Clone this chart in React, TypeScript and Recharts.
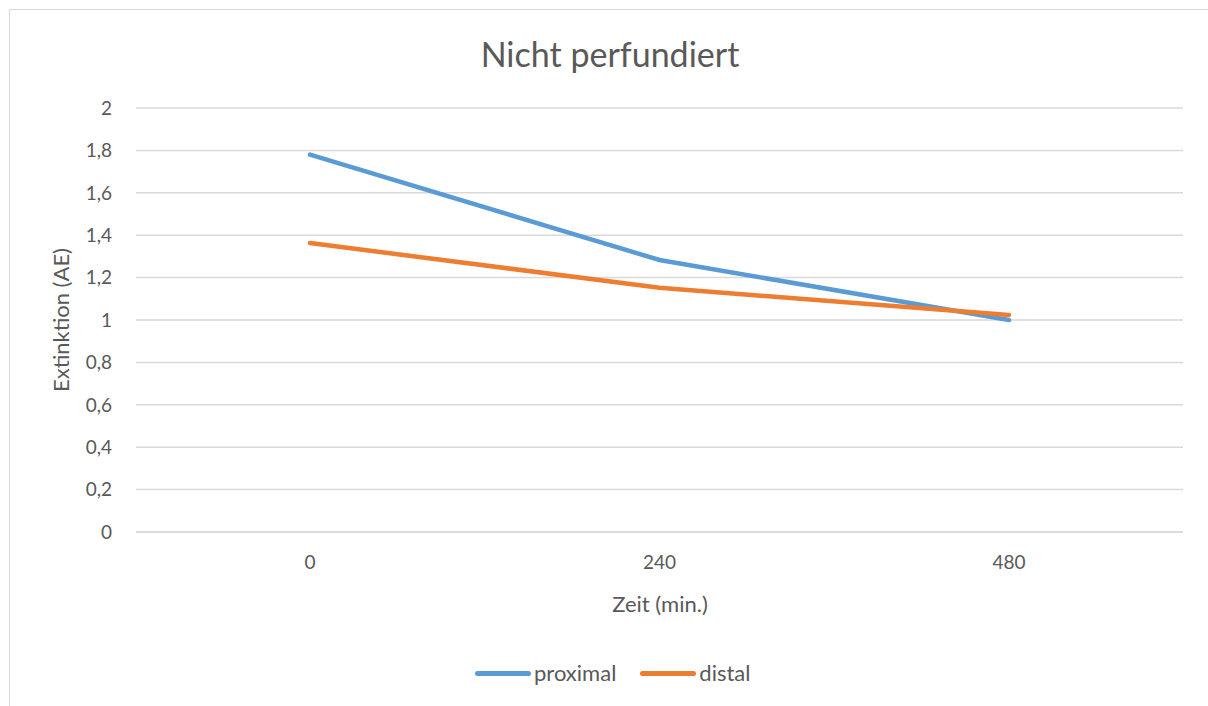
import React from "react";
import { LineChart, Line, XAxis, YAxis, CartesianGrid } from "recharts";

const zeiten = ["0", "240", "480"];
const proximal = [1.78, 1.283, 1.0];
const distal = [1.363, 1.152, 1.024];
const yTicks = [0, 0.2, 0.4, 0.6, 0.8, 1, 1.2, 1.4, 1.6, 1.8, 2];

const series = [
  { key: "proximal", name: "proximal", color: "#5B9BD5" },
  { key: "distal", name: "distal", color: "#ED7D31" },
];

const chartData = zeiten.map((zeit, i) => ({
  zeit,
  proximal: proximal[i],
  distal: distal[i],
}));

const font = "Lato, 'Open Sans', sans-serif";
const textColor = "#595959";

export default function App() {
  return (
    <div style={{ position: "absolute", left: 0, top: 0, width: 1208, height: 706, overflow: "hidden", background: "#fff", fontFamily: font }}>
      <div style={{ position: "absolute", left: 9, top: 9, width: 1300, height: 800, border: "1.5px solid #d9d9d9" }} />
      <div style={{ position: "absolute", left: 0, width: 1220, top: 33, textAlign: "center", fontSize: 34, color: textColor, lineHeight: "42px" }}>
        Nicht perfundiert
      </div>
      <LineChart
        width={1208}
        height={706}
        data={chartData}
        margin={{ top: 108, right: 25, bottom: 144, left: 76 }}
        style={{ position: "absolute", left: 0, top: 0 }}
      >
        <CartesianGrid vertical={false} stroke="#d9d9d9" strokeWidth={1.5} />
        <XAxis
          dataKey="zeit"
          height={30}
          padding={{ left: 174, right: 174 }}
          axisLine={{ stroke: "#d9d9d9", strokeWidth: 1.5 }}
          tickLine={false}
          tickMargin={18}
          tick={{ fill: textColor, fontSize: 19, fontFamily: font }}
        />
        <YAxis
          width={60}
          domain={[0, 2]}
          ticks={yTicks}
          interval={0}
          axisLine={false}
          tickLine={false}
          tickMargin={18}
          tickFormatter={(v: number) => String(v).replace(".", ",")}
          tick={{ fill: textColor, fontSize: 19, fontFamily: font }}
        />
        {series.map((s) => (
          <Line
            key={s.key}
            dataKey={s.key}
            name={s.name}
            stroke={s.color}
            strokeWidth={4.5}
            strokeLinecap="round"
            dot={false}
            activeDot={false}
            isAnimationActive={false}
          />
        ))}
      </LineChart>
      <div style={{ position: "absolute", left: 0, width: 1320, top: 589, textAlign: "center", fontSize: 22, color: textColor, lineHeight: "30px" }}>
        Zeit (min.)
      </div>
      <div
        style={{
          position: "absolute",
          left: 61,
          top: 320,
          transform: "translate(-50%, -50%) rotate(-90deg)",
          whiteSpace: "nowrap",
          fontSize: 22,
          color: textColor,
          lineHeight: "30px",
        }}
      >
        Extinktion (AE)
      </div>
      <div style={{ position: "absolute", left: 475, top: 658, display: "flex", alignItems: "center", fontSize: 22, color: textColor, lineHeight: "30px" }}>
        {series.map((s) => (
          <div key={s.key} style={{ display: "flex", alignItems: "center", marginRight: 24 }}>
            <div style={{ width: 56, height: 5, borderRadius: 3, background: s.color, marginRight: 3 }} />
            <span>{s.name}</span>
          </div>
        ))}
      </div>
    </div>
  );
}
